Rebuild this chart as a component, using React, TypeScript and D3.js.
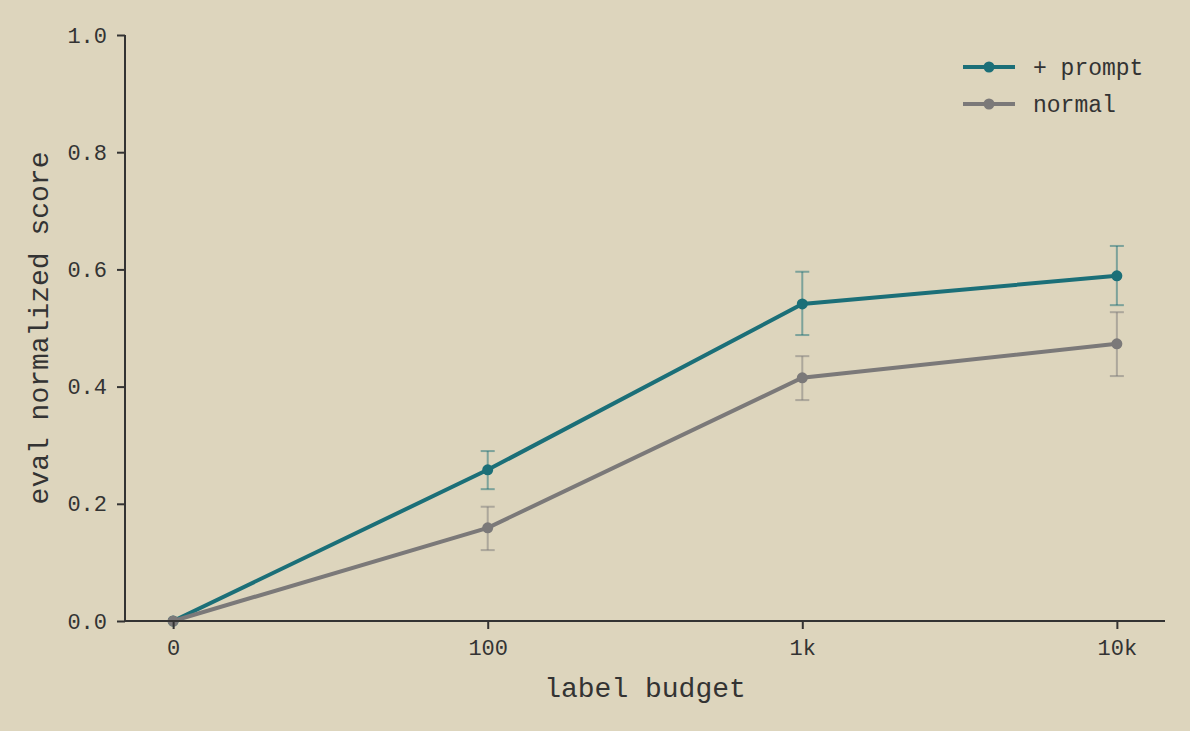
import { axisBottom, axisLeft, line, scaleLinear, scalePoint, select } from 'd3';
import { useEffect, useRef } from 'react';

const budgets = ['0', '100', '1k', '10k'];
const promptMean = [0, 0.258, 0.541, 0.589];
const promptLow = [0, 0.225, 0.488, 0.539];
const promptHigh = [0, 0.29, 0.596, 0.64];
const normalMean = [0, 0.159, 0.415, 0.473];
const normalLow = [0, 0.121, 0.377, 0.418];
const normalHigh = [0, 0.195, 0.452, 0.527];
const yTicks = [0, 0.2, 0.4, 0.6, 0.8, 1.0];

const series = [
  { name: '+ prompt', color: '#1b6f78', mean: promptMean, low: promptLow, high: promptHigh },
  { name: 'normal', color: '#7b7979', mean: normalMean, low: normalLow, high: normalHigh },
];

const width = 1190;
const height = 731;
const margin = { top: 35, right: 25, bottom: 110, left: 125 };
const font = "'Courier New', 'Liberation Mono', monospace";
const ink = '#333333';

export default function App() {
  const gx = useRef(null);
  const gy = useRef(null);

  const xScale = scalePoint<string>()
    .domain(budgets)
    .range([margin.left, width - margin.right])
    .padding(0.153);

  const yScale = scaleLinear()
    .domain([0, 1])
    .range([height - margin.bottom, margin.top]);

  const lineGen = line<number>()
    .x((_, i) => xScale(budgets[i]) as number)
    .y((d) => yScale(d));

  useEffect(() => {
    const g = select(gx.current);
    g.call(axisBottom(xScale).tickSizeOuter(0).tickSize(8).tickPadding(10) as any);
    // plain spine, no end caps
    g.select('.domain')
      .attr('d', `M${margin.left},0H${width - margin.right}`)
      .attr('stroke', ink)
      .attr('stroke-width', 2);
    g.selectAll('.tick line').attr('stroke', ink).attr('stroke-width', 2);
    g.selectAll('.tick text')
      .attr('fill', ink)
      .style('font-family', font)
      .style('font-size', '22px');
  }, [xScale]);

  useEffect(() => {
    const g = select(gy.current);
    g.call(
      axisLeft(yScale)
        .tickValues(yTicks)
        .tickFormat((d: any) => d.toFixed(1))
        .tickSizeOuter(0)
        .tickSize(8)
        .tickPadding(10) as any,
    );
    g.select('.domain')
      .attr('d', `M0,${margin.top}V${height - margin.bottom}`)
      .attr('stroke', ink)
      .attr('stroke-width', 2);
    g.selectAll('.tick line').attr('stroke', ink).attr('stroke-width', 2);
    g.selectAll('.tick text')
      .attr('fill', ink)
      .style('font-family', font)
      .style('font-size', '22px');
  }, [yScale]);

  return (
    <svg
      width={width}
      height={height}
      style={{ position: 'absolute', left: 0, top: 0, background: '#ddd5bd' }}>
      <rect x={0} y={0} width={width} height={height} fill='#ddd5bd' />
      {series.map((s) => (
        <g key={s.name + '-err'} stroke={s.color} strokeOpacity={0.5} strokeWidth={2}>
          {budgets.map((b, i) =>
            s.high[i] - s.low[i] > 0 ? (
              <g key={b}>
                <line x1={xScale(b)} x2={xScale(b)} y1={yScale(s.low[i])} y2={yScale(s.high[i])} />
                <line x1={(xScale(b) as number) - 7} x2={(xScale(b) as number) + 7} y1={yScale(s.low[i])} y2={yScale(s.low[i])} />
                <line x1={(xScale(b) as number) - 7} x2={(xScale(b) as number) + 7} y1={yScale(s.high[i])} y2={yScale(s.high[i])} />
              </g>
            ) : null,
          )}
        </g>
      ))}
      {series.map((s) => (
        <g key={s.name}>
          <path d={lineGen(s.mean) ?? ''} fill='none' stroke={s.color} strokeWidth={4} />
          {s.mean.map((v, i) => (
            <circle key={i} cx={xScale(budgets[i])} cy={yScale(v)} r={5.5} fill={s.color} />
          ))}
        </g>
      ))}
      <g ref={gy} transform={`translate(${margin.left}, 0)`}></g>
      <g ref={gx} transform={`translate(0, ${height - margin.bottom})`}></g>
      <text
        x={(margin.left + width - margin.right) / 2}
        y={697}
        textAnchor='middle'
        fill={ink}
        style={{ fontFamily: font, fontSize: 28 }}>
        label budget
      </text>
      <text
        transform={`translate(48, ${(margin.top + height - margin.bottom) / 2}) rotate(-90)`}
        textAnchor='middle'
        fill={ink}
        style={{ fontFamily: font, fontSize: 28 }}>
        eval normalized score
      </text>
      {series.map((s, i) => (
        <g key={s.name + '-leg'} transform={`translate(963, ${67 + i * 37})`}>
          <line x1={0} x2={52} y1={0} y2={0} stroke={s.color} strokeWidth={4} />
          <circle cx={26} cy={0} r={5.5} fill={s.color} />
          <text x={70} y={0} dy='0.35em' fill={ink} style={{ fontFamily: font, fontSize: 23 }}>
            {s.name}
          </text>
        </g>
      ))}
    </svg>
  );
}
